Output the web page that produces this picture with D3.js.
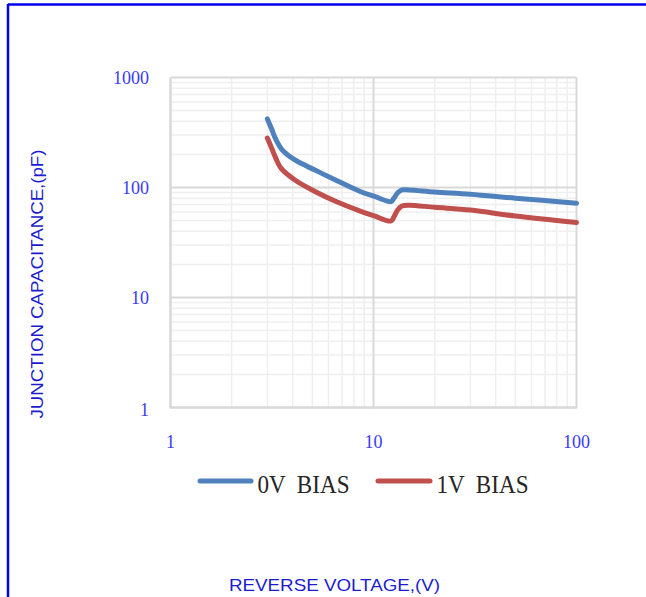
<!DOCTYPE html>
<html>
<head>
<meta charset="utf-8">
<script src="https://cdn.jsdelivr.net/npm/d3@7"></script>
<style>
  html, body { margin: 0; padding: 0; background: #ffffff; }
  svg { display: block; }
</style>
</head>
<body>
<svg id="chart" width="646" height="597"></svg>
<script>
// ---- data ----
const seriesNames = ["0V BIAS", "1V BIAS"];
const voltage0 = [3, 3.15, 3.3, 3.55, 4.1, 5.15, 6.5, 8.6, 10.2, 12.2, 12.6, 13.2, 13.8, 15, 20, 30, 50, 100];
const cap0     = [420, 340, 275, 220, 178, 144, 117, 92, 82.5, 74.5, 80, 90, 95, 95, 91, 87, 80, 72];
const voltage1 = [3, 3.15, 3.3, 3.5, 4.1, 5.15, 6.5, 8.6, 10.0, 12.2, 12.6, 13.2, 13.8, 15, 20, 30, 50, 100];
const cap1     = [282, 228, 185, 150, 117, 92, 75, 61, 55.5, 49.6, 54, 63, 68, 69, 66, 62.4, 55, 48];
const xTicks = [1, 10, 100];
const yTicks = [1, 10, 100, 1000];
const xTitle = "REVERSE VOLTAGE,(V)";
const yTitle = "JUNCTION CAPACITANCE,(pF)";

const colors = ["#4f81bd", "#c0504d"];

const svg = d3.select("#chart");

// frame (blue border on top and left)
svg.append("line").attr("x1", 8).attr("x2", 8).attr("y1", 4).attr("y2", 597)
  .attr("stroke", "#0000ee").attr("stroke-width", 2.5);
svg.append("line").attr("x1", 8).attr("x2", 646).attr("y1", 4.5).attr("y2", 4.5)
  .attr("stroke", "#0000ee").attr("stroke-width", 2.5);

const x = d3.scaleLog().domain([1, 100]).range([170.5, 576.5]);
const y = d3.scaleLog().domain([1, 1000]).range([407.5, 77.5]);

// minor grid
const minorX = [];
for (let d = 1; d < 100; d *= 10) for (let k = 2; k <= 9; k++) minorX.push(d * k);
const minorY = [];
for (let d = 1; d < 1000; d *= 10) for (let k = 2; k <= 9; k++) minorY.push(d * k);

const g = svg.append("g");
g.selectAll(".mx").data(minorX).enter().append("line")
  .attr("x1", d => x(d)).attr("x2", d => x(d)).attr("y1", y(1)).attr("y2", y(1000))
  .attr("stroke", "#efefef").attr("stroke-width", 1.5);
g.selectAll(".my").data(minorY).enter().append("line")
  .attr("x1", x(1)).attr("x2", x(100)).attr("y1", d => y(d)).attr("y2", d => y(d))
  .attr("stroke", "#efefef").attr("stroke-width", 1.5);
// major grid
g.selectAll(".Mx").data(xTicks).enter().append("line")
  .attr("x1", d => x(d)).attr("x2", d => x(d)).attr("y1", y(1) + 1).attr("y2", y(1000))
  .attr("stroke", "#d9d9d9").attr("stroke-width", d => d === 1 ? 2.5 : 2);
g.selectAll(".My").data(yTicks).enter().append("line")
  .attr("x1", x(1)).attr("x2", x(100)).attr("y1", d => y(d)).attr("y2", d => y(d))
  .attr("stroke", "#d9d9d9").attr("stroke-width", d => d === 1 ? 2.5 : 2);

// tick labels
const tickColor = "#3b3bf5";
svg.selectAll(".yl").data(yTicks).enter().append("text")
  .attr("x", 149).attr("y", d => y(d) + 6 + (d === 1 ? 2 : 0))
  .attr("text-anchor", "end")
  .attr("font-family", "'Liberation Serif', 'Times New Roman', serif")
  .attr("font-size", 18).attr("fill", tickColor)
  .text(d => d);
svg.selectAll(".xl").data(xTicks).enter().append("text")
  .attr("x", d => x(d)).attr("y", 448)
  .attr("text-anchor", "middle")
  .attr("font-family", "'Liberation Serif', 'Times New Roman', serif")
  .attr("font-size", 18).attr("fill", tickColor)
  .text(d => d);

// series
const line = d3.line().x(d => x(d[0])).y(d => y(d[1])).curve(d3.curveCatmullRom.alpha(0.5));
const series = [
  d3.zip(voltage0, cap0),
  d3.zip(voltage1, cap1)
];
series.forEach((s, i) => {
  svg.append("path").datum(s).attr("d", line)
    .attr("fill", "none").attr("stroke", colors[i]).attr("stroke-width", 5)
    .attr("stroke-linecap", "round").attr("stroke-linejoin", "round");
});

// legend
const legendItems = [
  { x1: 200, x2: 251, tx: 257.5 },
  { x1: 378, x2: 430, tx: 436.5 }
];
legendItems.forEach((it, i) => {
  svg.append("line").attr("x1", it.x1).attr("x2", it.x2).attr("y1", 481).attr("y2", 481)
    .attr("stroke", colors[i]).attr("stroke-width", 5).attr("stroke-linecap", "round");
  svg.append("text").attr("x", it.tx).attr("y", 493)
    .attr("font-family", "'Liberation Serif', 'Times New Roman', serif")
    .attr("font-size", 25).attr("fill", "#262626")
    .attr("textLength", 92).attr("lengthAdjust", "spacingAndGlyphs")
    .attr("xml:space", "preserve")
    .text(seriesNames[i].replace(" ", "  "));
});

// axis titles
const titleColor = "#1c1ccc";
svg.append("text").attr("x", 334.5).attr("y", 591)
  .attr("text-anchor", "middle")
  .attr("font-family", "'Liberation Sans', Arial, sans-serif")
  .attr("font-size", 17).attr("fill", titleColor)
  .attr("textLength", 211).attr("lengthAdjust", "spacingAndGlyphs")
  .text(xTitle);
svg.append("text")
  .attr("transform", "translate(42.5,284) rotate(-90)")
  .attr("text-anchor", "middle")
  .attr("font-family", "'Liberation Sans', Arial, sans-serif")
  .attr("font-size", 17).attr("fill", titleColor)
  .attr("textLength", 269).attr("lengthAdjust", "spacingAndGlyphs")
  .text(yTitle);
</script>
</body>
</html>
